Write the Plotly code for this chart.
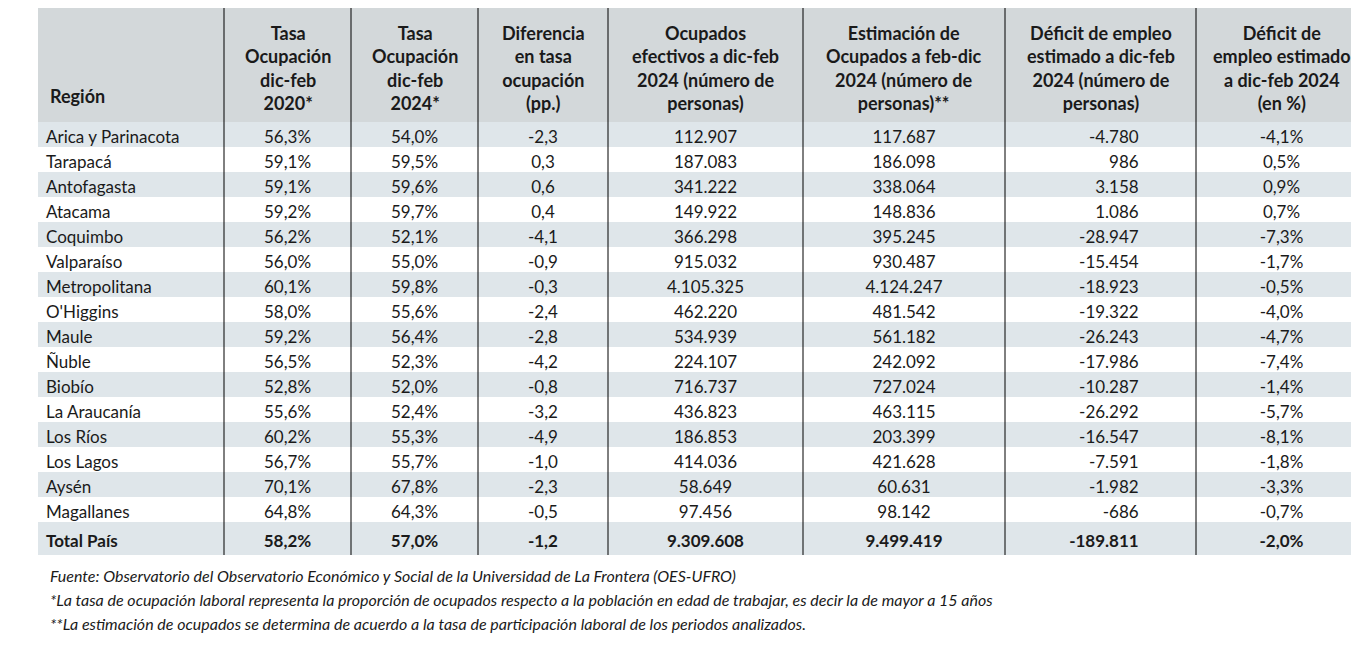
import plotly.graph_objects as go

regiones = ["Arica y Parinacota","Tarapacá","Antofagasta","Atacama","Coquimbo","Valparaíso","Metropolitana","O'Higgins","Maule","Ñuble","Biobío","La Araucanía","Los Ríos","Los Lagos","Aysén","Magallanes","Total País"]
tasa2020 = ["56,3%","59,1%","59,1%","59,2%","56,2%","56,0%","60,1%","58,0%","59,2%","56,5%","52,8%","55,6%","60,2%","56,7%","70,1%","64,8%","58,2%"]
tasa2024 = ["54,0%","59,5%","59,6%","59,7%","52,1%","55,0%","59,8%","55,6%","56,4%","52,3%","52,0%","52,4%","55,3%","55,7%","67,8%","64,3%","57,0%"]
diferencia = ["-2,3","0,3","0,6","0,4","-4,1","-0,9","-0,3","-2,4","-2,8","-4,2","-0,8","-3,2","-4,9","-1,0","-2,3","-0,5","-1,2"]
ocupados = ["112.907","187.083","341.222","149.922","366.298","915.032","4.105.325","462.220","534.939","224.107","716.737","436.823","186.853","414.036","58.649","97.456","9.309.608"]
estimacion = ["117.687","186.098","338.064","148.836","395.245","930.487","4.124.247","481.542","561.182","242.092","727.024","463.115","203.399","421.628","60.631","98.142","9.499.419"]
deficit = ["-4.780","986","3.158","1.086","-28.947","-15.454","-18.923","-19.322","-26.243","-17.986","-10.287","-26.292","-16.547","-7.591","-1.982","-686","-189.811"]
deficit_pct = ["-4,1%","0,5%","0,9%","0,7%","-7,3%","-1,7%","-0,5%","-4,0%","-4,7%","-7,4%","-1,4%","-5,7%","-8,1%","-1,8%","-3,3%","-0,7%","-2,0%"]

headers = ["Región",
           "Tasa<br>Ocupación<br>dic-feb<br>2020*",
           "Tasa<br>Ocupación<br>dic-feb<br>2024*",
           "Diferencia<br>en tasa<br>ocupación<br>(pp.)",
           "Ocupados<br>efectivos a dic-feb<br>2024 (número de<br>personas)",
           "Estimación de<br>Ocupados a feb-dic<br>2024 (número de<br>personas)**",
           "Déficit de empleo<br>estimado a dic-feb<br>2024 (número de<br>personas)",
           "Déficit de<br>empleo estimado<br>a dic-feb 2024<br>(en %)"]

pad = "\u2007" * 5
deficit_disp = [v + pad for v in deficit]
cols = [regiones, tasa2020, tasa2024, diferencia, ocupados, estimacion, deficit_disp, deficit_pct]
n = len(regiones)
cols = [[("<b>%s</b>" % v) if i == n - 1 else v for i, v in enumerate(c)] for c in cols]
fills = ["#dfe6ea" if i % 2 == 0 else "#ffffff" for i in range(n)]

W, H, L = 1359, 661, 30
PW = W - L
widths = [186, 127, 127, 130, 195, 202, 191, 171]
fig = go.Figure(go.Table(
    columnwidth=widths,
    domain=dict(x=[0, 1], y=[1 - 547/H, 1]),
    header=dict(values=[""]*8, height=114, fill_color="#d3d8da", line_width=0),
    cells=dict(values=cols, height=25, fill_color=[fills]*8, line_width=0,
               align=["left", "center", "center", "center", "center", "center", "right", "center"],
               font=dict(family="Lato", size=17, color="#1a1a1a")),
))

x = L
for i, (w, h) in enumerate(zip(widths, headers)):
    if i == 0:
        fig.add_annotation(text="<b>%s</b>" % h, xref="paper", yref="paper", x=(x + 10 - L)/PW,
                           y=1 - 88/H, xanchor="left", yanchor="middle", showarrow=False,
                           font=dict(family="Lato", size=18, color="#1a1a1a"))
    else:
        fig.add_annotation(text="<b>%s</b>" % h, xref="paper", yref="paper", x=(x + w/2 - L)/PW,
                           y=1 - 60/H, xanchor="center", yanchor="middle", align="center",
                           showarrow=False, font=dict(family="Lato", size=18, color="#1a1a1a"))
    x += w
    if i < len(widths) - 1:
        fig.add_shape(type="line", xref="paper", yref="paper",
                      x0=(x-L)/PW, x1=(x-L)/PW, y0=1-547/H, y1=1,
                      line=dict(color="black", width=1))

notes = ["Fuente: Observatorio del Observatorio Económico y Social de la Universidad de La Frontera (OES-UFRO)",
         "*La tasa de ocupación laboral representa la proporción de ocupados respecto a la población en edad de trabajar, es decir la de mayor a 15 años",
         "**La estimación de ocupados se determina de acuerdo a la tasa de participación laboral de los periodos analizados."]
for i, t in enumerate(notes):
    fig.add_annotation(text="<i>%s</i>" % t, xref="paper", yref="paper", x=(40-L)/PW,
                       y=1-(567+i*24)/H, xanchor="left", yanchor="middle", showarrow=False,
                       font=dict(family="Lato", size=16, color="#1a1a1a"))

fig.update_layout(width=W, height=H, margin=dict(l=L, r=0, t=0, b=0),
                  paper_bgcolor="white")
fig.write_html("out.html")
